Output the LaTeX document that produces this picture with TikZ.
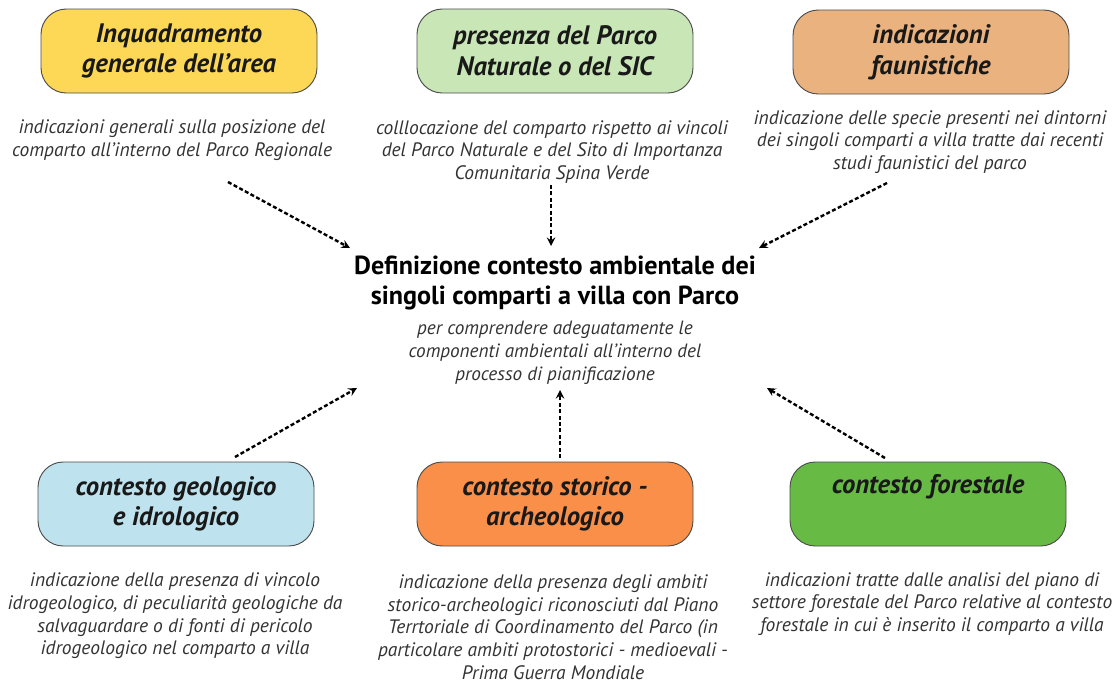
\documentclass[tikz,border=0pt]{standalone}
\usepackage{fontspec}
\setmainfont{PT Sans}
\usetikzlibrary{shapes,arrows}
\definecolor{giallo}{HTML}{FCD856}
\definecolor{verdechiaro}{HTML}{C8E6B6}
\definecolor{nocciola}{HTML}{E9B27E}
\definecolor{azzurro}{HTML}{BEE3EE}
\definecolor{arancio}{HTML}{F98F48}
\definecolor{verde}{HTML}{67BB45}
\tikzstyle{tema} = [rectangle,rounded corners=19pt,minimum width=207pt,minimum height=63pt,align=center,draw=black!70,line width=0.7pt,text=black!90,font=\fontsize{20}{23}\selectfont\bfseries\itshape]
\tikzstyle{nota} = [align=center,text=black!80,inner sep=0pt,font=\fontsize{14.6}{17}\selectfont\itshape]
\tikzstyle{centro} = [align=center,text=black,inner sep=0pt,font=\fontsize{19.6}{22.5}\selectfont\bfseries]
\tikzstyle{sotto} = [align=center,text=black!80,inner sep=0pt,font=\fontsize{14.4}{17.3}\selectfont\itshape]
\tikzstyle{freccia} = [line width=1.8pt, ->, >=stealth, dash pattern=on 3pt off 1.8pt]
\begin{document}
\begin{tikzpicture}[x=0.75pt,y=-0.75pt]
\useasboundingbox (0,0) rectangle (1113,683);

% riquadri superiori
\node [tema, fill=giallo] (inquadramento) at (179,51) {Inquadramento\\generale dell'area};
\node [tema, fill=verdechiaro] (parco) at (555,51) {presenza del Parco\\Naturale o del SIC};
\node [tema, fill=nocciola] (fauna) at (931,52) {indicazioni\\faunistiche};

% note superiori
\node [nota] (notaInq) at (172,140) {indicazioni generali sulla posizione del\\comparto all'interno del Parco Regionale};
\node [nota] (notaParco) at (552,152) {colllocazione del comparto rispetto ai vincoli\\del Parco Naturale e del Sito di Importanza\\Comunitaria Spina Verde};
\node [nota] (notaFauna) at (930,142) {indicazione delle specie presenti nei dintorni\\dei singoli comparti a villa tratte dai recenti\\studi faunistici del parco};

% centro
\node [centro] (definizione) at (555,283) {Definizione contesto ambientale dei\\singoli comparti a villa con Parco};
\node [sotto, below of=definizione, node distance=52pt] (scopo) {per comprendere adeguatamente le\\componenti ambientali all'interno del\\processo di pianificazione};

% riquadri inferiori
\node [tema, fill=azzurro] (geologico) at (176,504) {contesto geologico\\e idrologico};
\node [tema, fill=arancio] (storico) at (555,504) {contesto storico -\\archeologico};
\node [tema, fill=verde] (forestale) at (928,504) {contesto forestale\\\strut};

% note inferiori
\node [nota] (notaGeo) at (175,616) {indicazione della presenza di vincolo\\idrogeologico, di peculiarità geologiche da\\salvaguardare o di fonti di pericolo\\idrogeologico nel comparto a villa};
\node [nota] (notaStor) at (553,627) {indicazione della presenza degli ambiti\\storico-archeologici riconosciuti dal Piano\\Terrtoriale di Coordinamento del Parco (in\\particolare ambiti protostorici - medioevali -\\Prima Guerra Mondiale};
\node [nota] (notaFor) at (932,604) {indicazioni tratte dalle analisi del piano di\\settore forestale del Parco relative al contesto\\forestale in cui è inserito il comparto a villa};

% frecce
\coordinate (inqA) at (228,182);
\coordinate (inqB) at (350,248);
\coordinate (parcoA) at (551,185);
\coordinate (parcoB) at (551,246);
\coordinate (faunaA) at (887,183);
\coordinate (faunaB) at (759,248);
\coordinate (geoA) at (235,457);
\coordinate (geoB) at (357,388);
\coordinate (storA) at (560,458);
\coordinate (storB) at (560,390);
\coordinate (forA) at (885,458);
\coordinate (forB) at (767,388);

\draw [freccia] (inqA) -- (inqB);
\draw [freccia] (parcoA) -- (parcoB);
\draw [freccia] (faunaA) -- (faunaB);
\draw [freccia] (geoA) -- (geoB);
\draw [freccia] (storA) -- (storB);
\draw [freccia] (forA) -- (forB);

\end{tikzpicture}
\end{document}
